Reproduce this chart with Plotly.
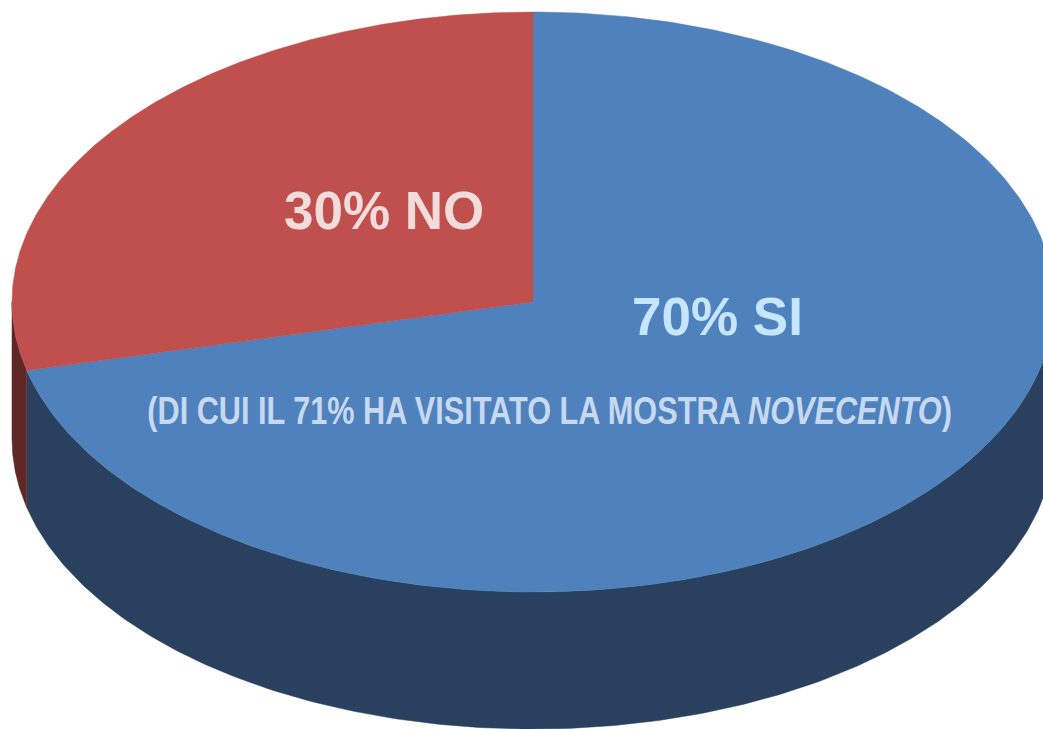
import numpy as np
import plotly.graph_objects as go

categories = ["SI", "NO"]
shares = [71.2, 28.8]
top_colors = ["#4F81BD", "#C0504D"]
side_colors = ["#29405F", "#5F2725"]
labels = ["70% SI", "30% NO", "(DI CUI IL 71% HA VISITATO LA MOSTRA <i>NOVECENTO</i>)"]

W, H = 1043, 729
CX, CY, RX, RY, DEPTH = 533, 302, 521, 290, 137


def point(t, dy=0.0):
    return CX + RX * np.sin(t), CY - RY * np.cos(t) + dy


fig = go.Figure()
bounds = np.cumsum([0] + shares) / sum(shares) * 2 * np.pi

# Sides first, then tops
for i, _ in enumerate(categories):
    a, b = bounds[i], bounds[i + 1]
    lo, hi = max(a, np.pi / 2), min(b, 3 * np.pi / 2)
    if hi > lo:
        t = np.linspace(lo, hi, 240)
        x1, y1 = point(t)
        x2, y2 = point(t[::-1], DEPTH)
        fig.add_trace(go.Scatter(x=np.r_[x1, x2], y=np.r_[y1, y2], mode="lines",
                                 fill="toself", fillcolor=side_colors[i],
                                 line=dict(color=side_colors[i], width=0.5),
                                 hoverinfo="skip", showlegend=False))

for i, name in enumerate(categories):
    t = np.linspace(bounds[i], bounds[i + 1], 360)
    x, y = point(t)
    fig.add_trace(go.Scatter(x=np.r_[CX, x, CX], y=np.r_[CY, y, CY], mode="lines",
                             fill="toself", fillcolor=top_colors[i],
                             line=dict(color=top_colors[i], width=0.5),
                             name=name, hoverinfo="name", showlegend=False))

FONT = "Liberation Sans"
fig.add_annotation(x=717, y=316, text=f"<b>{labels[0]}</b>", showarrow=False,
                   font=dict(family=FONT, size=53, color="#C6E6FF"))
fig.add_annotation(x=384, y=210, text=f"<b>{labels[1]}</b>", showarrow=False,
                   font=dict(family=FONT, size=53, color="#F2DCDB"))
fig.add_annotation(x=549, y=411, text=f"<b>{labels[2]}</b>", showarrow=False,
                   font=dict(family=FONT, size=38, color="#C6D9F1"))

fig.update_layout(
    width=W, height=H, margin=dict(l=0, r=0, t=0, b=0),
    paper_bgcolor="white", plot_bgcolor="white",
    xaxis=dict(range=[0, W], visible=False, fixedrange=True),
    yaxis=dict(range=[H, 0], visible=False, fixedrange=True),
)
# Remove the page margin, and condense the long caption to the reference's width
post = """
document.body.style.margin = '0';
var all = document.querySelectorAll('.annotation-text');
var el = all[all.length - 1];
var b = el.getBBox();
var c = b.x + b.width / 2;
var s = 805 / b.width;
el.setAttribute('transform', 'translate(' + c + ',0) scale(' + s + ',1) translate(' + (-c) + ',0)');
"""
fig.write_html("out.html", config={"displayModeBar": False}, post_script=post)
